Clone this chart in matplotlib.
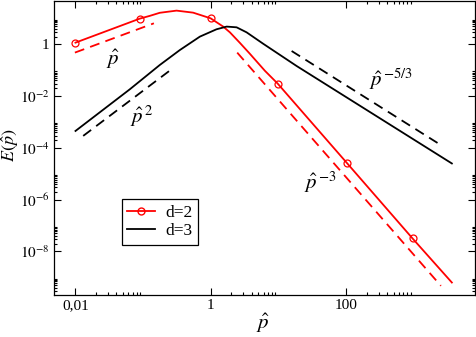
import matplotlib
matplotlib.use('Agg')
import matplotlib.pyplot as plt
from matplotlib.ticker import FixedLocator, FixedFormatter, NullFormatter
from matplotlib.lines import Line2D

plt.rcParams['font.family'] = ['Liberation Serif', 'DejaVu Serif']
plt.rcParams['mathtext.fontset'] = 'stix'

# d=2 spectrum (red)
d2_x = [0.01, 0.089, 0.126, 0.176, 0.311, 0.547, 0.99, 1.52, 1.91, 2.68, 3.77, 6.28, 9.7, 101, 955, 3630]
d2_y = [1.16, 9.8, 12.6, 16.5, 20.0, 16.7, 10.1, 4.83, 2.9, 1.14, 0.43, 0.095, 0.0304, 2.7e-5, 3.16e-8, 6.3e-10]
d2_mark_x = [0.01, 0.089, 0.99, 9.7, 101, 955]
d2_mark_y = [1.16, 9.8, 10.1, 0.0304, 2.7e-5, 3.16e-8]

# d=3 spectrum (black)
d3_x = [0.01, 0.0635, 0.176, 0.348, 0.688, 1.21, 1.71, 2.40, 3.37, 5.93, 18.5, 3630]
d3_y = [4.5e-4, 0.0183, 0.159, 0.60, 1.98, 3.8, 4.83, 4.53, 2.9, 1.05, 0.145, 2.5e-5]

# reference power laws (dashed)
ref_red1_x = [0.0098, 0.144]
ref_red1_y = [0.478, 6.47]
ref_red3_x = [2.45, 2500]
ref_red3_y = [0.478, 4.7e-10]
ref_blk2_x = [0.013, 0.254]
ref_blk2_y = [2.9e-4, 0.102]
ref_blk53_x = [15.6, 2630]
ref_blk53_y = [0.551, 1.18e-4]

xticks = [0.01, 1, 100]
xticklabels = ['0,01', '1', '100']
yticks = [1e-8, 1e-6, 1e-4, 1e-2, 1]
yticklabels = [r'$10^{-8}$', r'$10^{-6}$', r'$10^{-4}$', r'$10^{-2}$', '1']

fig = plt.figure(figsize=(4.77, 3.37), dpi=100)
ax = fig.add_axes([0.113, 0.125, 0.883, 0.872])
ax.set_xscale('log')
ax.set_yscale('log')

red = '#ff0000'
ax.plot(d2_x, d2_y, color=red, lw=1.3)
ax.plot(d2_mark_x, d2_mark_y, ls='none', marker='o', ms=5, mfc='none', mec=red, mew=0.9)
ax.plot(d3_x, d3_y, color='black', lw=1.3)

dash = (0, (5.5, 3.5))
ax.plot(ref_red1_x, ref_red1_y, color=red, lw=1.3, ls=dash)
ax.plot(ref_red3_x, ref_red3_y, color=red, lw=1.3, ls=dash)
ax.plot(ref_blk2_x, ref_blk2_y, color='black', lw=1.3, ls=dash)
ax.plot(ref_blk53_x, ref_blk53_y, color='black', lw=1.3, ls=dash)

ax.set_xlim(0.0048, 8000)
ax.set_ylim(2.1e-10, 47)

ax.xaxis.set_major_locator(FixedLocator(xticks))
ax.xaxis.set_major_formatter(FixedFormatter(xticklabels))
ax.xaxis.set_minor_locator(FixedLocator([k * 10.0**e for e in (-2, 0, 2) for k in range(2, 10)]))
ax.xaxis.set_minor_formatter(NullFormatter())
ax.yaxis.set_major_locator(FixedLocator(yticks))
ax.yaxis.set_major_formatter(FixedFormatter(yticklabels))
ax.yaxis.set_minor_locator(FixedLocator([k * 10.0**e for e in (-10, -8, -6, -4, -2, 0) for k in range(2, 10)]))
ax.yaxis.set_minor_formatter(NullFormatter())

ax.tick_params(which='both', direction='in', top=True, right=True, width=0.8, labelsize=11)
ax.tick_params(which='major', length=5, pad=3)
ax.tick_params(which='minor', length=2.4)
for s in ax.spines.values():
    s.set_linewidth(0.9)

ax.set_xlabel(r'$\hat{p}$', fontsize=15)
ax.set_ylabel(r'$E(\hat{p})$', fontsize=13)
ax.xaxis.set_label_coords(0.497, -0.058)
ax.yaxis.set_label_coords(-0.078, 0.51)

ax.text(0.0356, 0.264, r'$\hat{p}$', fontsize=15, ha='center', va='center')
ax.text(0.095, 1.66e-3, r'$\hat{p}^{\,\mathit{2}}$', fontsize=15, ha='center', va='center')
ax.text(460, 0.045, r'$\hat{p}^{\,\mathit{-5/3}}$', fontsize=15, ha='center', va='center')
ax.text(41, 4.7e-6, r'$\hat{p}^{\,\mathit{-3}}$', fontsize=15, ha='center', va='center')

handles = [Line2D([], [], color=red, lw=1.3, marker='o', ms=5, mfc='none', mec=red),
           Line2D([], [], color='black', lw=1.3)]
leg = ax.legend(handles, ['d=2', 'd=3'], loc='upper left', bbox_to_anchor=(0.162, 0.3255),
                borderaxespad=0, fontsize=12.5, frameon=True, fancybox=False, framealpha=1,
                edgecolor='black', handlelength=1.6, handletextpad=0.6, borderpad=0.3,
                labelspacing=0.15)
leg.get_frame().set_linewidth(0.9)

fig.savefig('out.png', dpi=100)
